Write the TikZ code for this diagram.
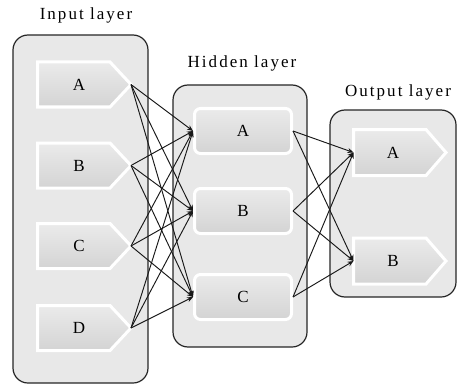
\documentclass[tikz,border=0pt]{standalone}
\usepackage{fontspec}
\setmainfont{Liberation Serif}
\usetikzlibrary{arrows.meta,shadows}
\newcommand\mkpent[8]{%
  \draw[unitp] (#2,#3) -- (#5,#3) -- (#6,{(#3+#4)/2}) -- (#5,#4) -- (#2,#4) -- cycle;
  \coordinate (#1) at (#6,{(#3+#4)/2});
  \coordinate (#1-w) at (#2,{(#3+#4)/2});
  \node[utext] (#1-t) at (#7,{(#3+#4)/2}) {#8};}
\begin{document}
\begin{tikzpicture}[x=1pt,y=-1pt,
  layer/.style={draw=black!85,line width=1.2pt,fill=black!9,rounded corners=15pt,inner sep=0pt},
  unitp/.style={draw=white,line width=3pt,line join=miter,top color=black!8,bottom color=black!17,
    drop shadow={shadow xshift=0.6pt,shadow yshift=-0.8pt,opacity=0.25}},
  utext/.style={inner sep=0pt,font=\fontsize{17}{20}\selectfont},
  hid/.style={unitp,utext,rounded corners=6pt,minimum width=97pt,minimum height=45pt},
  ttl/.style={font=\fontsize{17}{20}\selectfont\addfontfeature{LetterSpace=12}},
  conn/.style={draw=black!90,line width=0.95pt,-{Stealth[length=6pt,width=5pt]}}]
\useasboundingbox (0,0) rectangle (457,385);
% containers
\node[layer,minimum width=135pt,minimum height=348pt] (Lin) at (80.5,209) {};
\node[layer,minimum width=134pt,minimum height=262pt] (Lhid) at (240,216) {};
\node[layer,minimum width=126pt,minimum height=187pt] (Lout) at (393,203.5) {};
% titles
\node[ttl] (tin) at (86,15) {Input layer};
\node[ttl] (thid) at (242,63) {Hidden layer};
\node[ttl] (tout) at (398,92) {Output layer};
% input units
\mkpent{iA}{37.5}{62}{107}{110}{131}{79}{A}
\mkpent{iB}{37.5}{143}{188}{110}{131}{79}{B}
\mkpent{iC}{37.5}{223.5}{268.5}{110}{131}{79}{C}
\mkpent{iD}{37.5}{305.5}{350.5}{110}{131}{79}{D}
% hidden units
\node[hid] (hA) at (243,131) {A};
\node[hid] (hB) at (243,211) {B};
\node[hid] (hC) at (243,297) {C};
% output units
\mkpent{oA}{353.5}{129.5}{175.5}{426}{446}{393}{A}
\mkpent{oB}{353.5}{238}{284}{426}{446}{393}{B}
% connectors
\foreach \i in {iA,iB,iC,iD}{
  \foreach \h in {hA,hB,hC}{
    \draw[conn] (\i) -- (\h.west);
  }
}
\foreach \h in {hA,hB,hC}{
  \foreach \o in {oA,oB}{
    \draw[conn] (\h.east) -- (\o-w);
  }
}
\end{tikzpicture}
\end{document}
